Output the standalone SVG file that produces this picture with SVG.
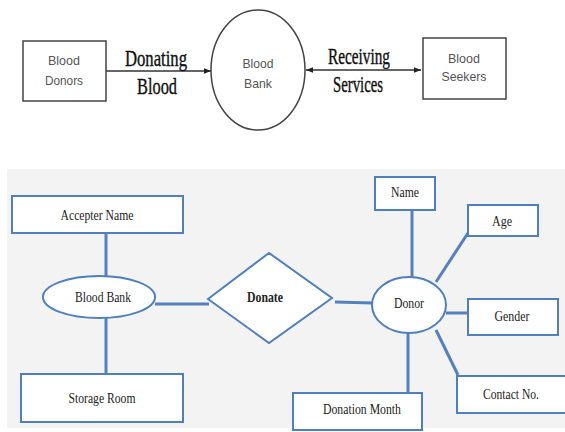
<svg xmlns="http://www.w3.org/2000/svg" width="565" height="432" viewBox="0 0 565 432">
<defs>
<style>
.tbox{fill:#fff;stroke:#444;stroke-width:1.5}
.tlbl{font-family:"Liberation Sans",Arial,sans-serif;font-size:13.5px;fill:#555;text-anchor:middle}
.flow{font-family:"Liberation Serif","Times New Roman",serif;font-size:24px;fill:#111;stroke:#111;stroke-width:0.4;text-anchor:middle}
.tline{stroke:#333;stroke-width:1.5;fill:none}
.bbox{fill:#fff;stroke:#4f7fbd;stroke-width:2}
.blbl{font-family:"Liberation Serif","Times New Roman",serif;font-size:15px;fill:#222;text-anchor:middle}
.conn{stroke:#5680bd;stroke-width:3;fill:none}
</style>
<marker id="ah" viewBox="0 0 10 10" refX="10" refY="5" markerWidth="7" markerHeight="7" orient="auto-start-reverse" markerUnits="userSpaceOnUse">
<path d="M0,1 L10,5 L0,9 Z" fill="#222"/>
</marker>
</defs>
<rect width="565" height="432" fill="#fff"/>
<rect x="7" y="169" width="558" height="259" fill="#f3f3f3"/>

<g id="top-connectors">
<line class="tline" x1="106" y1="71" x2="211" y2="71" marker-end="url(#ah)"/>
<line class="tline" x1="306" y1="70" x2="421" y2="70" marker-start="url(#ah)" marker-end="url(#ah)"/>
<text class="flow" x="156" y="66" textLength="62" lengthAdjust="spacingAndGlyphs">Donating</text>
<text class="flow" x="157" y="94" textLength="40" lengthAdjust="spacingAndGlyphs">Blood</text>
<text class="flow" x="359" y="64" textLength="62" lengthAdjust="spacingAndGlyphs">Receiving</text>
<text class="flow" x="358" y="92" textLength="50" lengthAdjust="spacingAndGlyphs">Services</text>
</g>
<g id="blood-donors">
<rect class="tbox" x="23" y="41" width="83" height="60"/>
<text class="tlbl" x="64" y="65" textLength="32" lengthAdjust="spacingAndGlyphs">Blood</text>
<text class="tlbl" x="64" y="85" textLength="38" lengthAdjust="spacingAndGlyphs">Donors</text>
</g>
<g id="blood-bank-top">
<ellipse class="tbox" cx="258" cy="70" rx="47" ry="60"/>
<text class="tlbl" x="258" y="68" textLength="31" lengthAdjust="spacingAndGlyphs">Blood</text>
<text class="tlbl" x="258" y="88" textLength="28" lengthAdjust="spacingAndGlyphs">Bank</text>
</g>
<g id="blood-seekers">
<rect class="tbox" x="423" y="38" width="83" height="61"/>
<text class="tlbl" x="464" y="63" textLength="32" lengthAdjust="spacingAndGlyphs">Blood</text>
<text class="tlbl" x="464" y="81" textLength="45" lengthAdjust="spacingAndGlyphs">Seekers</text>
</g>

<g id="connectors">
<line class="conn" x1="106" y1="233" x2="106" y2="276"/>
<line class="conn" x1="106" y1="317" x2="106" y2="374"/>
<line class="conn" x1="155" y1="304" x2="209" y2="304"/>
<line class="conn" x1="335" y1="302" x2="373" y2="303"/>
<line class="conn" x1="412" y1="210" x2="412" y2="277"/>
<line class="conn" x1="468" y1="233" x2="436" y2="282"/>
<line class="conn" x1="446" y1="313" x2="468" y2="313"/>
<line class="conn" x1="436" y1="330" x2="458" y2="375"/>
<line class="conn" x1="408" y1="333" x2="408" y2="393"/>
</g>
<g id="accepter-name">
<rect class="bbox" x="12" y="196" width="171" height="37"/>
<text class="blbl" x="97" y="220" textLength="73" lengthAdjust="spacingAndGlyphs">Accepter Name</text>
</g>
<g id="blood-bank">
<ellipse class="bbox" cx="99" cy="297" rx="56" ry="21"/>
<text class="blbl" x="103" y="302" textLength="56" lengthAdjust="spacingAndGlyphs">Blood Bank</text>
</g>
<g id="storage-room">
<rect class="bbox" x="21" y="374" width="162" height="48"/>
<text class="blbl" x="102" y="403" textLength="67" lengthAdjust="spacingAndGlyphs">Storage Room</text>
</g>
<g id="donate">
<polygon class="bbox" points="208,299 269,253 332,298 269,343"/>
<text class="blbl" x="265" y="302" font-weight="bold" textLength="36" lengthAdjust="spacingAndGlyphs">Donate</text>
</g>
<g id="donor">
<ellipse class="bbox" cx="409" cy="305" rx="37" ry="28"/>
<text class="blbl" x="409" y="308" textLength="30" lengthAdjust="spacingAndGlyphs">Donor</text>
</g>
<g id="name">
<rect class="bbox" x="375" y="177" width="60" height="33"/>
<text class="blbl" x="405" y="197" textLength="28" lengthAdjust="spacingAndGlyphs">Name</text>
</g>
<g id="age">
<rect class="bbox" x="468" y="205" width="70" height="31"/>
<text class="blbl" x="502" y="226" textLength="20" lengthAdjust="spacingAndGlyphs">Age</text>
</g>
<g id="gender">
<rect class="bbox" x="468" y="299" width="90" height="36"/>
<text class="blbl" x="512" y="321" textLength="35" lengthAdjust="spacingAndGlyphs">Gender</text>
</g>
<g id="contact-no">
<rect class="bbox" x="457" y="376" width="110" height="37"/>
<text class="blbl" x="511" y="399" textLength="56" lengthAdjust="spacingAndGlyphs">Contact No.</text>
</g>
<g id="donation-month">
<rect class="bbox" x="293" y="393" width="129" height="37"/>
<text class="blbl" x="362" y="414" textLength="78" lengthAdjust="spacingAndGlyphs">Donation Month</text>
</g>
</svg>
